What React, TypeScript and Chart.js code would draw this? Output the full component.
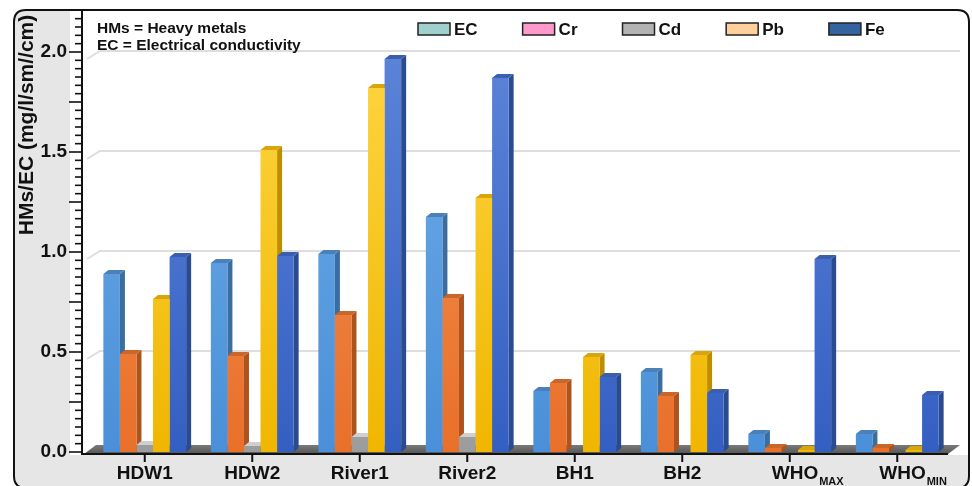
import React, { useEffect, useRef } from 'react';
import { Chart, registerables } from 'chart.js';

Chart.register(...registerables);

// ---------- data ----------
const categories = ['HDW1', 'HDW2', 'River1', 'River2', 'BH1', 'BH2', 'WHO_MAX', 'WHO_MIN'];
const seriesNames = ['EC', 'Cr', 'Cd', 'Pb', 'Fe'];
const ecValues = [0.89, 0.945, 0.99, 1.175, 0.305, 0.4, 0.09, 0.09];
const crValues = [0.49, 0.48, 0.685, 0.77, 0.345, 0.28, 0.02, 0.02];
const cdValues = [0.035, 0.03, 0.075, 0.075, 0, 0, 0, 0];
const pbValues = [0.765, 1.51, 1.82, 1.27, 0.475, 0.485, 0.01, 0.01];
const feValues = [0.975, 0.98, 1.965, 1.87, 0.375, 0.295, 0.965, 0.285];
const yTickValues = [0, 0.5, 1.0, 1.5, 2.0];
const yAxisTitle = 'HMs/EC (mg/l/sm//cm)';
const noteLines = ['HMs = Heavy metals', 'EC = Electrical conductivity'];
const legendLabels = ['EC', 'Cr', 'Cd', 'Pb', 'Fe'];

const seriesValues = [ecValues, crValues, cdValues, pbValues, feValues];

// ---------- styles ----------
const legendColors = ['#9fd0ce', '#ff99cc', '#b3b3b3', '#ffcf9c', '#3464a0'];
const frontTop = ['#72b0e8', '#f6965a', '#c4c4c4', '#ffd848', '#5f88da'];
const frontBottom = ['#4a8fd8', '#e8702a', '#9c9c9c', '#f0b600', '#345fc2'];
const sideColors = ['#3b6e9e', '#ad531d', '#7c7c7c', '#bc8e00', '#2a4b8e'];
const topColors = ['#4c80b8', '#c9662a', '#cfcfcf', '#d8a60c', '#3b5fae'];
const FONT = "'Liberation Sans', Arial, sans-serif";
const DX = 5;
const DY = 4;

const gradCache: Record<string, CanvasGradient> = {};
function frontFill(c: any, i: number) {
  const chart = c.chart;
  const area = chart.chartArea;
  if (!area) return frontBottom[i];
  const key = i + ':' + area.top + ':' + area.bottom;
  if (!gradCache[key]) {
    const g = chart.ctx.createLinearGradient(0, area.top, 0, area.bottom);
    g.addColorStop(0, frontTop[i]);
    g.addColorStop(1, frontBottom[i]);
    gradCache[key] = g;
  }
  return gradCache[key];
}

function roundRectPath(ctx: CanvasRenderingContext2D, x: number, y: number, w: number, h: number, r: number) {
  ctx.beginPath();
  ctx.moveTo(x + r, y);
  ctx.lineTo(x + w - r, y);
  ctx.quadraticCurveTo(x + w, y, x + w, y + r);
  ctx.lineTo(x + w, y + h - r);
  ctx.quadraticCurveTo(x + w, y + h, x + w - r, y + h);
  ctx.lineTo(x + r, y + h);
  ctx.quadraticCurveTo(x, y + h, x, y + h - r);
  ctx.lineTo(x, y + r);
  ctx.quadraticCurveTo(x, y, x + r, y);
  ctx.closePath();
}

const pseudo3d = {
  id: 'pseudo3d',
  beforeDraw(chart: any) {
    const { ctx, width, height } = chart;
    ctx.save();
    ctx.fillStyle = '#ffffff';
    ctx.fillRect(0, 0, width, height);
    roundRectPath(ctx, 14, 10, 955, 478, 12);
    ctx.clip();
    ctx.fillStyle = '#e6e6e6';
    ctx.fillRect(0, 0, width, height);
    ctx.fillStyle = '#ffffff';
    ctx.fillRect(70, 0, width, 455);
    ctx.restore();
  },
  beforeDatasetsDraw(chart: any) {
    const { ctx, scales } = chart;
    const x = scales.x;
    const y = scales.y;
    const axisX = 82;
    ctx.save();
    // back-wall gridlines
    ctx.strokeStyle = '#dedede';
    ctx.lineWidth = 2;
    yTickValues.forEach((v) => {
      if (v === 0) return;
      const py = y.getPixelForValue(v) - 1;
      ctx.beginPath();
      ctx.moveTo(axisX + 5, py + 8);
      ctx.lineTo(axisX + 18, py);
      ctx.lineTo(x.right + 9, py);
      ctx.stroke();
    });
    // floor
    const base = y.getPixelForValue(0);
    const fg = ctx.createLinearGradient(0, base - 7, 0, base + 2);
    fg.addColorStop(0, '#7a7a7a');
    fg.addColorStop(1, '#555555');
    ctx.fillStyle = fg;
    ctx.beginPath();
    ctx.moveTo(axisX + 2, base + 2);
    ctx.lineTo(x.right - 3, base + 2);
    ctx.lineTo(x.right + 9, base - 7);
    ctx.lineTo(axisX + 14, base - 7);
    ctx.closePath();
    ctx.fill();
    // side and top faces of bars
    chart.data.datasets.forEach((ds: any, di: number) => {
      const meta = chart.getDatasetMeta(di);
      meta.data.forEach((bar: any, bi: number) => {
        const v = ds.data[bi];
        if (!(v > 0)) return;
        const { x: cx, y: top, base: b, width: w } = bar.getProps(['x', 'y', 'base', 'width'], true);
        const l = cx - w / 2;
        const r = cx + w / 2;
        ctx.fillStyle = sideColors[di];
        ctx.beginPath();
        ctx.moveTo(r, top);
        ctx.lineTo(r + DX, top - DY);
        ctx.lineTo(r + DX, b - DY);
        ctx.lineTo(r, b);
        ctx.closePath();
        ctx.fill();
        ctx.fillStyle = topColors[di];
        ctx.beginPath();
        ctx.moveTo(l, top);
        ctx.lineTo(l + DX, top - DY);
        ctx.lineTo(r + DX, top - DY);
        ctx.lineTo(r, top);
        ctx.closePath();
        ctx.fill();
      });
    });
    ctx.restore();
  },
  afterDraw(chart: any) {
    const { ctx, scales, chartArea } = chart;
    const x = scales.x;
    const y = scales.y;
    const axisX = 82;
    const base = y.getPixelForValue(0);
    ctx.save();
    ctx.strokeStyle = '#111';
    // y axis line + ticks
    ctx.lineWidth = 2;
    ctx.beginPath();
    ctx.moveTo(axisX, chartArea.top);
    ctx.lineTo(axisX, base + 3);
    ctx.stroke();
    ctx.lineWidth = 1.6;
    for (let k = 0; k < 60; k++) {
      const v = k / 24;
      const py = y.getPixelForValue(v);
      if (py < chartArea.top + 1) break;
      const major = k % 6 === 0;
      ctx.beginPath();
      ctx.moveTo(major ? axisX - 13 : axisX - 7, py);
      ctx.lineTo(axisX, py);
      ctx.stroke();
    }
    // x axis line + ticks
    ctx.lineWidth = 2;
    ctx.beginPath();
    ctx.moveTo(axisX - 1, base + 2);
    ctx.lineTo(x.right - 3, base + 2);
    ctx.stroke();
    categories.forEach((_, i) => {
      const px = x.getPixelForValue(i);
      ctx.beginPath();
      ctx.moveTo(px, base + 2);
      ctx.lineTo(px, base + 10);
      ctx.stroke();
    });
    // subscripted x labels
    ctx.fillStyle = '#111';
    categories.forEach((lab, i) => {
      if (!lab.includes('_')) return;
      const [main, sub] = lab.split('_');
      const px = x.getPixelForValue(i);
      ctx.font = `bold 19px ${FONT}`;
      ctx.textAlign = 'left';
      ctx.textBaseline = 'middle';
      const mw = ctx.measureText(main).width;
      const sx = px - 18;
      ctx.fillText(main, sx, base + 22);
      ctx.font = `bold 11px ${FONT}`;
      ctx.fillText(sub, sx + mw + 1, base + 30);
    });
    // y axis title
    ctx.save();
    ctx.translate(27, 125);
    ctx.rotate(-Math.PI / 2);
    ctx.font = `bold 21px ${FONT}`;
    ctx.textAlign = 'center';
    ctx.textBaseline = 'middle';
    ctx.fillText(yAxisTitle, 0, 0);
    ctx.restore();
    // notes
    ctx.font = `bold 15.5px ${FONT}`;
    ctx.textAlign = 'left';
    ctx.textBaseline = 'alphabetic';
    noteLines.forEach((t, i) => ctx.fillText(t, 97, 33 + i * 17));
    // legend
    let lx = 418;
    ctx.font = `bold 17px ${FONT}`;
    legendLabels.forEach((t, i) => {
      ctx.fillStyle = legendColors[i];
      ctx.fillRect(lx, 23, 32, 12);
      ctx.lineWidth = 1.5;
      ctx.strokeStyle = '#222';
      ctx.strokeRect(lx, 23, 32, 12);
      ctx.fillStyle = '#111';
      ctx.textBaseline = 'alphabetic';
      ctx.fillText(t, lx + 36, 35);
      lx += 36 + ctx.measureText(t).width + 45;
    });
    // frame
    ctx.lineWidth = 2;
    ctx.strokeStyle = '#111';
    roundRectPath(ctx, 14, 10, 955, 478, 12);
    ctx.stroke();
    ctx.restore();
  },
};

export default function App() {
  const ref = useRef<HTMLCanvasElement | null>(null);
  useEffect(() => {
    document.body.style.margin = '0';
    const canvas = ref.current;
    if (!canvas) return;
    const chart = new Chart(canvas, {
      type: 'bar',
      data: {
        labels: categories,
        datasets: seriesNames.map((name, i) => ({
          label: name,
          data: seriesValues[i],
          backgroundColor: (c: any) => frontFill(c, i),
          borderWidth: 0,
          barPercentage: 1,
          categoryPercentage: 0.77,
        })),
      },
      options: {
        responsive: false,
        animation: false,
        devicePixelRatio: 1,
        layout: { padding: { left: 0, right: 21, top: 10, bottom: 0 } },
        plugins: { legend: { display: false }, tooltip: { enabled: false } },
        scales: {
          x: {
            grid: { display: false, drawTicks: false },
            border: { display: false },
            ticks: {
              font: { family: FONT, size: 19, weight: 'bold' },
              color: '#111',
              padding: 10,
              maxRotation: 0,
              autoSkip: false,
              callback: (_v: any, i: number) => (categories[i].includes('_') ? '' : categories[i]),
            },
            afterFit: (s: any) => {
              s.height = 34;
              s.paddingLeft = 0;
              s.paddingRight = 0;
              s.paddingTop = 0;
              s.paddingBottom = 0;
            },
          },
          y: {
            min: 0,
            max: 2.21,
            grid: { display: false, drawTicks: false },
            border: { display: false },
            ticks: {
              font: { family: FONT, size: 19, weight: 'bold' },
              color: '#111',
              padding: 24,
              callback: (v: any) => Number(v).toFixed(1),
            },
            afterBuildTicks: (s: any) => {
              s.ticks = yTickValues.map((v) => ({ value: v }));
            },
            afterFit: (s: any) => {
              s.width = 91;
              s.paddingLeft = 0;
              s.paddingRight = 0;
              s.paddingTop = 0;
              s.paddingBottom = 0;
            },
          },
        },
      },
      plugins: [pseudo3d],
    } as any);
    return () => chart.destroy();
  }, []);
  return <canvas ref={ref} width={972} height={486} style={{ display: 'block', width: 972, height: 486 }} />;
}
